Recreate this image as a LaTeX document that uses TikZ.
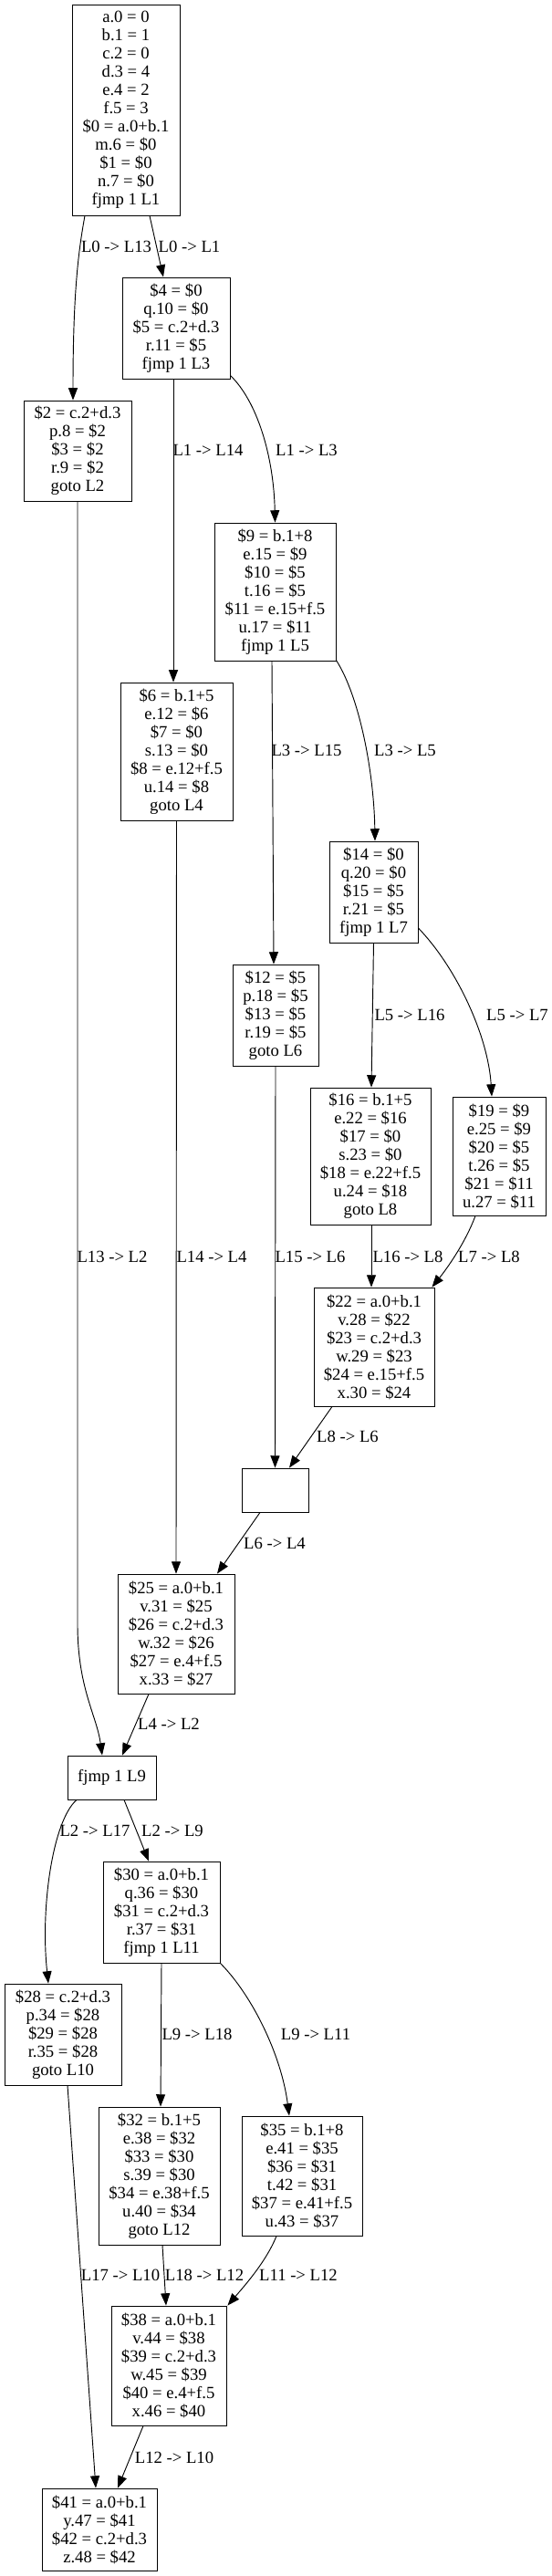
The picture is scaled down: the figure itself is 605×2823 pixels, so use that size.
\documentclass[tikz,border=0pt]{standalone}
\usepackage{fontspec}
\setmainfont{Liberation Serif}
\usetikzlibrary{arrows.meta,calc}
\begin{document}
\begin{tikzpicture}[x=0.75pt,y=-0.75pt,
  blk/.style={draw,line width=0.65pt,rectangle,inner sep=0pt,align=center,
    font=\fontsize{14pt}{15pt}\selectfont},
  lbl/.style={inner sep=0pt,font=\fontsize{14pt}{15pt}\selectfont},
  edge/.style={line width=0.7pt,-{Triangle[length=10pt,width=7.5pt]}}]
\useasboundingbox (0,0) rectangle (605,2823);
% nodes
\node[blk,minimum width=88.5pt,minimum height=173.25pt] (A) at (138,120.5) {a.0 = 0\\b.1 = 1\\c.2 = 0\\d.3 = 4\\e.4 = 2\\f.5 = 3\\\$0 = a.0+b.1\\m.6 = \$0\\\$1 = \$0\\n.7 = \$0\\fjmp 1 L1};
\node[blk,minimum width=88.5pt,minimum height=83.25pt] (B) at (193,359.5) {\$4 = \$0\\q.10 = \$0\\\$5 = c.2+d.3\\r.11 = \$5\\fjmp 1 L3};
\node[blk,minimum width=88.5pt,minimum height=82.5pt] (C) at (85,494) {\$2 = c.2+d.3\\p.8 = \$2\\\$3 = \$2\\r.9 = \$2\\goto L2};
\node[blk,minimum width=99.75pt,minimum height=113.25pt] (E) at (301.5,648.5) {\$9 = b.1+8\\e.15 = \$9\\\$10 = \$5\\t.16 = \$5\\\$11 = e.15+f.5\\u.17 = \$11\\fjmp 1 L5};
\node[blk,minimum width=92.25pt,minimum height=113.25pt] (D) at (193.5,823.5) {\$6 = b.1+5\\e.12 = \$6\\\$7 = \$0\\s.13 = \$0\\\$8 = e.12+f.5\\u.14 = \$8\\goto L4};
\node[blk,minimum width=72.75pt,minimum height=83.25pt] (G) at (409.5,977.5) {\$14 = \$0\\q.20 = \$0\\\$15 = \$5\\r.21 = \$5\\fjmp 1 L7};
\node[blk,minimum width=70.5pt,minimum height=83.25pt] (F) at (302,1112.5) {\$12 = \$5\\p.18 = \$5\\\$13 = \$5\\r.19 = \$5\\goto L6};
\node[blk,minimum width=99pt,minimum height=112.5pt] (H) at (406,1267) {\$16 = b.1+5\\e.22 = \$16\\\$17 = \$0\\s.23 = \$0\\\$18 = e.22+f.5\\u.24 = \$18\\goto L8};
\node[blk,minimum width=76.5pt,minimum height=97.5pt] (I) at (547,1267) {\$19 = \$9\\e.25 = \$9\\\$20 = \$5\\t.26 = \$5\\\$21 = \$11\\u.27 = \$11};
\node[blk,minimum width=99pt,minimum height=97.5pt] (J) at (410,1476) {\$22 = a.0+b.1\\v.28 = \$22\\\$23 = c.2+d.3\\w.29 = \$23\\\$24 = e.15+f.5\\x.30 = \$24};
\node[blk,minimum width=54.75pt,minimum height=36pt] (K) at (301.5,1633) {};
\node[blk,minimum width=96pt,minimum height=98.25pt] (L) at (193,1790.5) {\$25 = a.0+b.1\\v.31 = \$25\\\$26 = c.2+d.3\\w.32 = \$26\\\$27 = e.4+f.5\\x.33 = \$27};
\node[blk,minimum width=72.75pt,minimum height=36pt] (M) at (122.5,1948) {fjmp 1 L9};
\node[blk,minimum width=96pt,minimum height=83.25pt] (O) at (177,2095.5) {\$30 = a.0+b.1\\q.36 = \$30\\\$31 = c.2+d.3\\r.37 = \$31\\fjmp 1 L11};
\node[blk,minimum width=96pt,minimum height=83.25pt] (N) at (69,2229.5) {\$28 = c.2+d.3\\p.34 = \$28\\\$29 = \$28\\r.35 = \$28\\goto L10};
\node[blk,minimum width=99.75pt,minimum height=113.25pt] (P) at (174.5,2384.5) {\$32 = b.1+5\\e.38 = \$32\\\$33 = \$30\\s.39 = \$30\\\$34 = e.38+f.5\\u.40 = \$34\\goto L12};
\node[blk,minimum width=99pt,minimum height=98.25pt] (Q) at (331,2384.5) {\$35 = b.1+8\\e.41 = \$35\\\$36 = \$31\\t.42 = \$31\\\$37 = e.41+f.5\\u.43 = \$37};
\node[blk,minimum width=94.5pt,minimum height=98.25pt] (S) at (185,2592.5) {\$38 = a.0+b.1\\v.44 = \$38\\\$39 = c.2+d.3\\w.45 = \$39\\\$40 = e.4+f.5\\x.46 = \$40};
\node[blk,minimum width=94.5pt,minimum height=67.5pt] (R) at (109,2772) {\$41 = a.0+b.1\\y.47 = \$41\\\$42 = c.2+d.3\\z.48 = \$42};
% edges
\draw[edge] ($(A.south)+(-45,0)$) .. controls (86,275) and (80,320) .. ($(C.north)+(-5,0)$);
\draw[edge] ($(A.south)+(26,0)$) -- ($(B.north)+(-14,0)$);
\draw[edge] ($(B.south)+(-3,0)$) -- ($(D.north)+(-3.5,0)$);
\draw[edge] ($(B.south east)+(0,-4)$) .. controls (282,440) and (300,500) .. (E.north);
\draw[edge] ($(E.south)+(-3.5,0)$) -- ($(F.north)+(-2,0)$);
\draw[edge] ($(E.south east)+(0,-1)$) .. controls (395,765) and (410,850) .. ($(G.north)+(1.5,0)$);
\draw[edge] (G.south) -- ($(H.north)+(1,0)$);
\draw[edge] ($(G.east)+(0,39.5)$) .. controls (500,1060) and (535,1135) .. ($(I.north)+(-8,0)$);
\draw[edge] ($(H.south)+(1,0)$) -- ($(J.north)+(-3,0)$);
\draw[edge] ($(I.south)+(-26,0)$) .. controls (510,1362) and (490,1390) .. ($(J.north east)+(-3,0)$);
\draw[edge] (F.south) -- (K.north);
\draw[edge] ($(J.south)+(-46,0)$) -- ($(K.north)+(15.5,0)$);
\draw[edge] (D.south) -- (L.north);
\draw[edge] ($(K.south)+(-16.5,0)$) -- ($(L.north)+(45,0)$);
\draw[edge] (C.south) -- (85,1780) .. controls (85,1850) and (106,1880) .. ($(M.north)+(-10.5,0)$);
\draw[edge] ($(L.south)+(-30,0)$) -- ($(M.north)+(11.5,0)$);
\draw[edge] ($(M.south)+(-38.5,0)$) .. controls (58,1995) and (44,2090) .. ($(N.north)+(-16,0)$);
\draw[edge] ($(M.south)+(13.5,0)$) -- ($(O.north)+(-14,0)$);
\draw[edge] (O.south) -- ($(P.north)+(1.5,0)$);
\draw[edge] (O.south east) .. controls (275,2185) and (308,2250) .. ($(Q.north)+(-14,0)$);
\draw[edge] ($(N.south)+(5,0)$) -- ($(R.north)+(-4,0)$);
\draw[edge] ($(P.south)+(3.5,0)$) -- ($(S.north)+(-3,0)$);
\draw[edge] ($(Q.south)+(-28,0)$) .. controls (292,2478) and (268,2505) .. ($(S.north east)+(1,0)$);
\draw[edge] ($(S.south)+(-28,0)$) -- ($(R.north)+(20,0)$);
% labels
\node[lbl] (l1) at (127.5,270) {L0 -> L13};
\node[lbl] (l2) at (207.5,270) {L0 -> L1};
\node[lbl] (l3) at (228,493) {L1 -> L14};
\node[lbl] (l4) at (336,493) {L1 -> L3};
\node[lbl] (l5) at (336,822) {L3 -> L15};
\node[lbl] (l6) at (444,822) {L3 -> L5};
\node[lbl] (l7) at (449,1112) {L5 -> L16};
\node[lbl] (l8) at (567,1112) {L5 -> L7};
\node[lbl] (l9) at (123,1377) {L13 -> L2};
\node[lbl] (l10) at (232,1377) {L14 -> L4};
\node[lbl] (l11) at (340,1377) {L15 -> L6};
\node[lbl] (l12) at (447,1377) {L16 -> L8};
\node[lbl] (l13) at (536,1377) {L7 -> L8};
\node[lbl] (l14) at (381,1574) {L8 -> L6};
\node[lbl] (l15) at (301,1691) {L6 -> L4};
\node[lbl] (l16) at (185,1889) {L4 -> L2};
\node[lbl] (l17) at (104,2006) {L2 -> L17};
\node[lbl] (l18) at (189,2006) {L2 -> L9};
\node[lbl] (l19) at (216,2229) {L9 -> L18};
\node[lbl] (l20) at (346,2229) {L9 -> L11};
\node[lbl] (l21) at (132,2493) {L17 -> L10};
\node[lbl] (l22) at (224,2493) {L18 -> L12};
\node[lbl] (l23) at (327,2493) {L11 -> L12};
\node[lbl] (l24) at (191,2693) {L12 -> L10};
\end{tikzpicture}
\end{document}
